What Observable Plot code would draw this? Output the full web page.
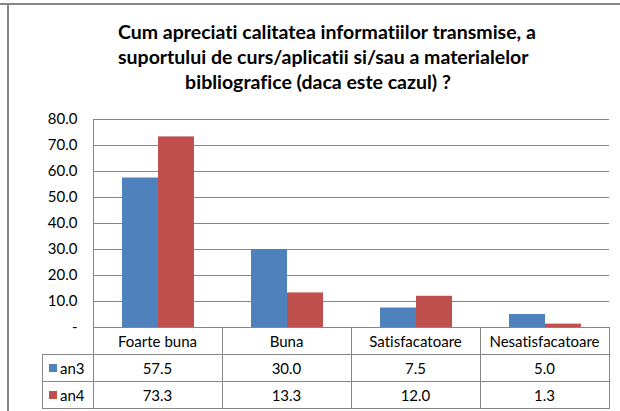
<!DOCTYPE html>
<html>
<head>
<meta charset="utf-8">
<script src="https://cdn.jsdelivr.net/npm/d3@7"></script>
<script src="https://cdn.jsdelivr.net/npm/@observablehq/plot@0.6"></script>
<style>
  html, body { margin: 0; padding: 0; background: #fff; }
  #wrap { position: relative; width: 620px; height: 411px; overflow: hidden; font-family: Lato, "Liberation Sans", sans-serif; color: #000; font-variant-ligatures: none; font-feature-settings: "liga" 0; }
  #title { position: absolute; left: 118px; width: 400px; top: 19px; text-align: center; font-weight: bold; font-size: 19.5px; line-height: 25px; white-space: nowrap; }
  .ln { position: absolute; background: #868686; }
  .cell { position: absolute; font-size: 15px; text-align: center; line-height: 26px; }
  .sw { position: absolute; width: 8px; height: 8px; }
  #plot { position: absolute; left: 0; top: 0; }
</style>
</head>
<body>
<div id="wrap">
  <div id="plot"></div>
  <div id="title">Cum apreciati calitatea informatiilor transmise, a<br>suportului de curs/aplicatii si/sau a materialelor<br>bibliografice (daca este cazul) ?</div>
</div>
<script>
const categories = ["Foarte buna", "Buna", "Satisfacatoare", "Nesatisfacatoare"];
const seriesNames = ["an3", "an4"];
const an3 = [57.5, 30.0, 7.5, 5.0];
const an4 = [73.3, 13.3, 12.0, 1.3];
const yTicks = [0, 10, 20, 30, 40, 50, 60, 70, 80];
const colors = ["#4F81BD", "#C0504D"];

const seriesValues = [an3, an4];
const data = [];
categories.forEach((c, i) => {
  seriesNames.forEach((s, j) => data.push({cat: c, series: s, value: seriesValues[j][i]}));
});

const W = 620, H = 411;
const mL = 93, mR = 11, mT = 119, mB = 84;

const chart = Plot.plot({
  width: W,
  height: H,
  marginLeft: mL,
  marginRight: mR,
  marginTop: mT,
  marginBottom: mB,
  style: {fontFamily: "Lato, 'Liberation Sans', sans-serif", fontSize: "15px", color: "#000", background: "transparent"},
  fx: {domain: categories, padding: 0, axis: null},
  x: {domain: seriesNames, paddingInner: 0, paddingOuter: 0.77, axis: null},
  y: {domain: [0, 80], axis: null},
  color: {domain: seriesNames, range: colors},
  marks: [
    Plot.gridY(yTicks, {stroke: "#868686", strokeOpacity: 1, strokeWidth: 1.2}),
    Plot.barY(data, {fx: "cat", x: "series", y: "value", fill: "series"}),
    Plot.axisY(yTicks, {
      label: null,
      tickSize: 0,
      tickPadding: 16,
      fontSize: 15,
      tickFormat: d => d === 0 ? "-" : d.toFixed(1),
      facetAnchor: "left"
    })
  ]
});
document.getElementById("plot").appendChild(chart);

// Frame and data table overlay
const wrap = document.getElementById("wrap");
function line(x, y, w, h) {
  const d = document.createElement("div");
  d.className = "ln";
  Object.assign(d.style, {left: x + "px", top: y + "px", width: w + "px", height: h + "px"});
  wrap.appendChild(d);
}
function cell(text, x, y, w, align) {
  const d = document.createElement("div");
  d.className = "cell";
  d.textContent = text;
  Object.assign(d.style, {left: x + "px", top: y + "px", width: w + "px", textAlign: align || "center"});
  wrap.appendChild(d);
}
// chart border (top and left)
line(0, 3, 620, 2);
line(7, 3, 2, 411);

const x0 = mL, x1 = W - mR;
const colW = (x1 - x0) / categories.length;
const yBase = H - mB; // 327
const rows = [yBase, 354, 381, 408];

// y-axis line
line(x0, mT, 1, 408 - mT + 1);
// table horizontal lines
line(x0, yBase, x1 - x0 + 1, 1);
line(42, 354, x1 - 42 + 1, 1);
line(42, 381, x1 - 42 + 1, 1);
line(42, 408, x1 - 42 + 1, 1);
// table vertical lines
line(42, 354, 1, 408 - 354 + 1);
categories.forEach((c, i) => {
  const xr = Math.round(x0 + colW * (i + 1));
  line(xr, yBase, 1, 408 - yBase + 1);
});
// header
categories.forEach((c, i) => {
  cell(c, x0 + colW * i, yBase + 1, colW);
});
// rows
const fmt = d3.format(".1f");
seriesNames.forEach((s, j) => {
  const top = rows[j + 1] + 1;
  const sw = document.createElement("div");
  sw.className = "sw";
  Object.assign(sw.style, {left: "49px", top: (top + 9) + "px", background: colors[j]});
  wrap.appendChild(sw);
  cell(s, 60, top, 33, "left");
  seriesValues[j].forEach((v, i) => cell(fmt(v), x0 + colW * i, top, colW));
});
</script>
</body>
</html>
